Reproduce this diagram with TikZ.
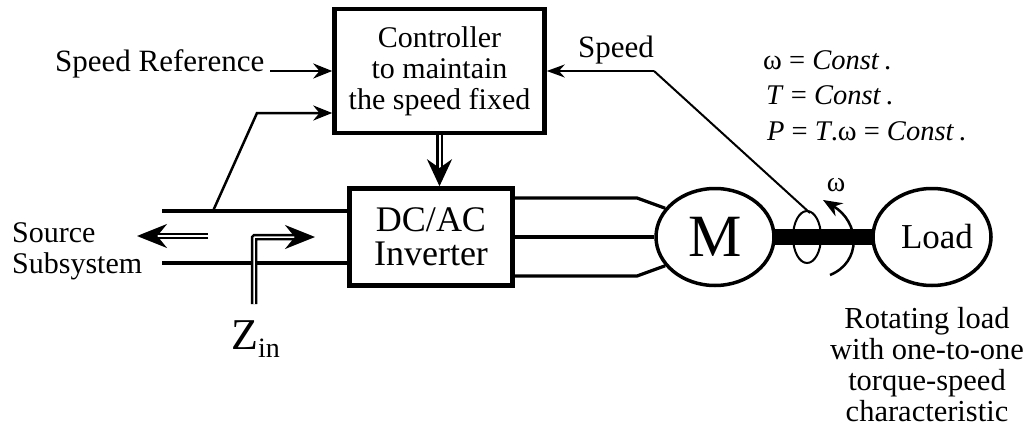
\documentclass[tikz,border=0pt]{standalone}
\usepackage{fontspec}
\setmainfont{Liberation Serif}
\usepackage{tikz}
\usetikzlibrary{positioning}
\usetikzlibrary{arrows.meta,shapes.geometric}
\newcommand{\fs}[2]{\fontsize{#1}{#2}\selectfont}
\begin{document}
\begin{tikzpicture}[x=1pt,y=-1pt,>={Stealth[length=19pt,width=15pt]},
                    blockbox/.style={draw,line width=4.5pt,align=center,inner sep=0pt},
                    machine/.style={draw,ellipse,line width=3.5pt,inner sep=0pt,minimum width=118pt,minimum height=97pt},
                    wire/.style={line width=3.2pt},
                    thin wire/.style={line width=2.5pt},
                    sense wire/.style={line width=2pt,>={Stealth[length=18pt,width=13pt]}},
                    power/.style={line width=2.5pt,double,double distance=1.5pt,
                                  -{Stealth[length=30pt,width=24pt]}},
                    lbl/.style={inner sep=0pt,font=\fs{30}{33}}]
\useasboundingbox (0,0) rectangle (1028,428);
\fill[white] (0,0) rectangle (1028,428);
% blocks
\node[blockbox,minimum width=210pt,minimum height=124pt,font=\fs{30}{31}] (ctrl) at (439.5,71)
     {Controller\\to maintain\\the speed fixed};
\node[blockbox,minimum width=163pt,minimum height=97pt,font=\fs{36}{34}] (inv) at (431,237)
     {DC/AC\\Inverter};
\node[machine,font=\fs{60}{60}] (motor) at (715,237) {M\hspace{8pt}};
\node[machine,font=\fs{35}{35}] (load) at (932,237) {\hspace{10pt}Load};
% labels
\node[lbl,anchor=west,font=\fs{31}{33}] (ref) at (55,64) {Speed Reference};
\node[lbl,anchor=west,font=\fs{31}{33}] (spd) at (578,50) {Speed};
\node[lbl,anchor=west] (src) at (12,233) {Source};
\node[lbl,anchor=west] (sub) at (12,266) {Subsystem};
\node[lbl,anchor=west,font=\fs{28.5}{33}] (eq1) at (763,60) {ω = \textit{Const}\,.};
\node[lbl,anchor=west,font=\fs{28.5}{33}] (eq2) at (766,95) {\textit{T} = \textit{Const}\,.};
\node[lbl,anchor=west,font=\fs{28.5}{33}] (eq3) at (767,131) {\textit{P} = \textit{T}.ω = \textit{Const}\,.};
\node[lbl,font=\fs{28}{33}] (om) at (836,185) {ω};
\node[lbl,align=center,anchor=north,font=\fs{30.5}{31}] (rot) at (927,307)
     {Rotating load\\with one-to-one\\torque-speed\\characteristic};
\node[inner sep=0pt,anchor=west] (zin) at (231,339)
     {\fs{44}{44}Z\raisebox{-8pt}{\fs{28}{28}in}};
% free ends
\coordinate (a1) at (162,211);
\coordinate (a2) at (162,263);
\coordinate (t) at (213,211);
\coordinate (k) at (257,113);
\coordinate (p1) at (637,198);
\coordinate (p2) at (637,276);
\coordinate (sb) at (654,71);
\coordinate (ring) at (810,213);
\coordinate (r0) at (270,71);
\coordinate (s1) at (208,236);
\coordinate (s2) at (137,236);
\coordinate (z1) at (254,304);
\coordinate (z2) at (254,237);
\coordinate (z3) at (315,237);
\coordinate (o1) at (830,275);
\coordinate (o2) at (823,200);
\coordinate (sh1) at (775,229);
\coordinate (sh2) at (872,245);
\coordinate (rc) at (807,237);
% wires
\draw[wire] (a1) -- (inv.west |- a1);
\draw[wire] (a2) -- (inv.west |- a2);
\draw[thin wire,->] (r0) -- (ctrl.west |- r0);
\draw[thin wire,->] (t) -- (k) -- (ctrl.west |- k);
\draw[sense wire,->] (sb) -- (ctrl.east |- sb);
\draw[sense wire] (sb) -- (ring);
\draw[power] (s1) -- (s2);
\draw[power,rounded corners=1pt] (z1) -- (z2) -- (z3);
\draw[line width=2.5pt,double,double distance=2pt,-{Stealth[length=27pt,width=25pt]}] (ctrl.south) -- (ctrl.south |- inv.north);
\draw[wire] (inv.east |- p1) -- (p1) -- (motor.150);
\draw[wire] (inv.east) -- (motor.west);
\draw[wire] (inv.east |- p2) -- (p2) -- (motor.210);
% shaft
\draw[thin wire,->] (o1) .. controls +(32,-13) and +(37,22) .. (o2);
\draw[sense wire] (rc) ellipse (14 and 26);
\fill (sh1) rectangle (sh2);
\end{tikzpicture}
\end{document}
